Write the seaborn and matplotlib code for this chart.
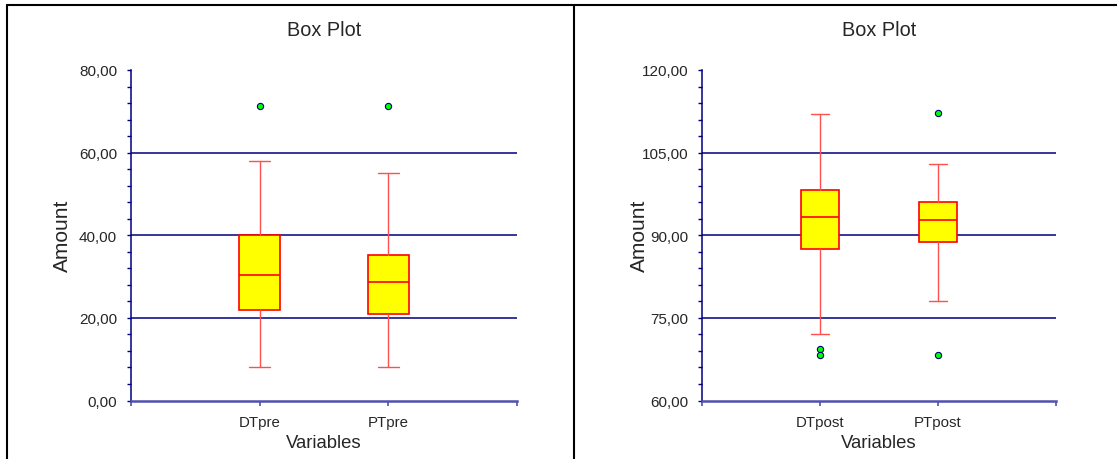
import matplotlib
matplotlib.use("Agg")
import matplotlib.pyplot as plt
import seaborn as sns
from matplotlib import font_manager
from matplotlib.lines import Line2D
from matplotlib.ticker import AutoMinorLocator, FuncFormatter, MultipleLocator

# values (five-number summary + outliers)
labels_pre = ["DTpre", "PTpre"]
q1_pre = [22.0, 21.0]
med_pre = [30.3, 28.8]
q3_pre = [40.0, 35.2]
lo_pre = [8.0, 8.0]
hi_pre = [58.0, 55.0]
out_pre = [[71.3], [71.3]]

labels_post = ["DTpost", "PTpost"]
q1_post = [87.5, 88.7]
med_post = [93.3, 92.8]
q3_post = [98.2, 96.0]
lo_post = [72.0, 78.0]
hi_post = [112.0, 103.0]
out_post = [[69.3, 68.2], [112.2, 68.2]]

W, H = 1117, 460

sns.set_style("white")
names = {f.name for f in font_manager.fontManager.ttflist}
NARROW = "Liberation Sans Narrow" if "Liberation Sans Narrow" in names else "Liberation Sans"
plt.rcParams["font.family"] = [NARROW, "DejaVu Sans"]

NAVY = "#000080"


def stats(labels, q1, med, q3, lo, hi, out):
    rows = []
    for i in range(len(labels)):
        rows.append({"label": labels[i], "q1": q1[i], "med": med[i], "q3": q3[i],
                     "whislo": lo[i], "whishi": hi[i], "fliers": out[i]})
    return rows


def fmt(v, pos):
    return f"{v:.2f}".replace(".", ",")


def draw(ax, rows, ymin, ymax, step):
    ax.bxp(rows, positions=range(len(rows)), widths=0.32, capwidths=0.16,
           patch_artist=True, manage_ticks=False, zorder=3,
           boxprops=dict(facecolor="#ffff00", edgecolor="#ff0000", linewidth=1.2),
           medianprops=dict(color="#ff0000", linewidth=1.2),
           whiskerprops=dict(color="#ff5050", linewidth=1.0),
           capprops=dict(color="#ff5050", linewidth=1.0),
           flierprops=dict(marker="o", markerfacecolor="#00ff00",
                           markeredgecolor=NAVY, markeredgewidth=0.8, markersize=4.5))
    ax.set_xlim(-1, 2)
    ax.set_ylim(ymin, ymax)
    ax.yaxis.set_major_locator(MultipleLocator(step))
    ax.yaxis.set_minor_locator(AutoMinorLocator(5))
    ax.yaxis.set_major_formatter(FuncFormatter(fmt))
    ax.set_xticks([-1, 0, 1, 2])
    ax.set_xticklabels([""] + [r["label"] for r in rows] + [""])
    for y in range(ymin + step, ymax, step):
        ax.axhline(y, color=NAVY, linewidth=1.1, zorder=1)
    for s in ["top", "right"]:
        ax.spines[s].set_visible(False)
    ax.spines["left"].set_color(NAVY)
    ax.spines["left"].set_linewidth(1.1)
    ax.spines["bottom"].set_color("#5050b0")
    ax.spines["bottom"].set_linewidth(1.8)
    ax.tick_params(axis="y", which="both", direction="out", length=3, width=1,
                   color=NAVY, pad=7, labelsize=11, left=True)
    ax.tick_params(axis="x", direction="out", length=3.8, width=1.2,
                   color="#5050b0", pad=6.5, labelsize=10.8, bottom=True)
    ax.set_title("Box Plot", fontsize=14.3, pad=25)
    ax.set_xlabel("Variables", fontsize=13.3)
    ax.set_ylabel("Amount", fontsize=15, family=["Liberation Sans", "DejaVu Sans"])
    ax.xaxis.set_label_coords(0.5, -0.101)


fig = plt.figure(figsize=(W / 100, H / 100), dpi=100)
ax1 = fig.add_axes([131 / W, 58.5 / H, 386 / W, 330.5 / H])
ax2 = fig.add_axes([702 / W, 58.5 / H, 354 / W, 330.5 / H])

draw(ax1, stats(labels_pre, q1_pre, med_pre, q3_pre, lo_pre, hi_pre, out_pre), 0, 80, 20)
draw(ax2, stats(labels_post, q1_post, med_post, q3_post, lo_post, hi_post, out_post), 60, 120, 15)
ax1.yaxis.set_label_coords(-0.153, 0.5)
ax2.yaxis.set_label_coords(-0.150, 0.5)

# panel frames
lw = 1.5
fig.add_artist(Line2D([7 / W, 1], [1 - 6 / H, 1 - 6 / H], transform=fig.transFigure, color="black", lw=lw))
fig.add_artist(Line2D([7 / W, 7 / W], [0, 1 - 6 / H], transform=fig.transFigure, color="black", lw=lw))
fig.add_artist(Line2D([574 / W, 574 / W], [0, 1 - 6 / H], transform=fig.transFigure, color="black", lw=lw))

fig.savefig("out.png", dpi=100)
